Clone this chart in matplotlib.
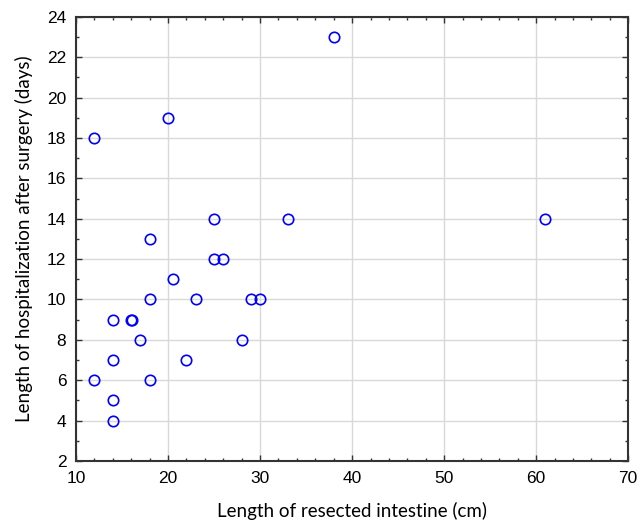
import matplotlib
matplotlib.use("Agg")
import matplotlib.pyplot as plt
from matplotlib.ticker import MultipleLocator

# resected intestine length (cm) vs hospital stay (days)
resected_cm = [12, 20, 38, 25, 33, 61, 18, 25, 26, 20.5, 18, 23, 29, 30,
               14, 16, 16.1, 17, 28, 14, 22, 12, 18, 14, 14]
stay_days = [18, 19, 23, 14, 14, 14, 13, 12, 12, 11, 10, 10, 10, 10,
             9, 9, 9, 8, 8, 7, 7, 6, 6, 5, 4]

plt.rcParams['font.family'] = ['Liberation Sans', 'DejaVu Sans']

fig = plt.figure(figsize=(6.41, 5.28), dpi=100)
ax = fig.add_axes([0.1186, 0.127, 0.8614, 0.841])

ax.plot(resected_cm, stay_days, 'o', mfc='none', mec='#0000ff', ms=7.5, mew=1.2,
        zorder=3)

ax.set_xlim(10, 70)
ax.set_ylim(2, 24)
ax.xaxis.set_major_locator(MultipleLocator(10))
ax.xaxis.set_minor_locator(MultipleLocator(2))
ax.yaxis.set_major_locator(MultipleLocator(2))
ax.yaxis.set_minor_locator(MultipleLocator(1))
ax.grid(True, which='major', color='#d9d9d9', lw=1)
ax.set_axisbelow(True)
ax.tick_params(which='both', direction='in', top=True, right=True,
               color='#333333', labelsize=12.5)
ax.tick_params(which='major', length=4, width=1, pad=7)
ax.tick_params(which='minor', length=2.5, width=1)
for s in ax.spines.values():
    s.set_color('#333333')
    s.set_linewidth(1.5)

ax.set_xlabel('Length of resected intestine (cm)', fontsize=13.5, family=['Lato', 'DejaVu Sans'], labelpad=12)
ax.set_ylabel('Length of hospitalization after surgery (days)', fontsize=13.5, family=['Lato', 'DejaVu Sans'], labelpad=10)

fig.savefig('out.png', dpi=100)
